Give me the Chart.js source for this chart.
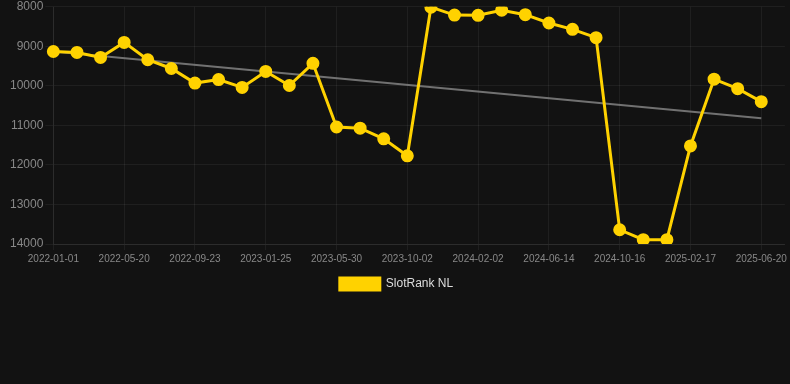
<!DOCTYPE html>
<html>
<head>
<meta charset="utf-8">
<script src="https://cdn.jsdelivr.net/npm/chart.js@4"></script>
<style>
    html, body { margin: 0; padding: 0; background: #121212; }
    #wrap { width: 790px; height: 300px; position: relative; }
</style>
</head>
<body>
<div id="wrap"><canvas id="rank-chart"></canvas></div>
<script>
"use strict";

// category labels (one spare slot at the end so the grid runs past the last point)
const DATES = [
    "2022-01-01", "2022-02-16", "2022-04-03", "2022-05-20", "2022-07-01", "2022-08-12",
    "2022-09-23", "2022-11-03", "2022-12-14", "2023-01-25", "2023-03-08", "2023-04-19",
    "2023-05-30", "2023-07-10", "2023-08-21", "2023-10-02", "2023-11-12", "2023-12-23",
    "2024-02-02", "2024-03-15", "2024-05-03", "2024-06-14", "2024-07-25", "2024-09-04",
    "2024-10-16", "2024-11-26", "2025-01-07", "2025-02-17", "2025-03-30", "2025-05-10",
    "2025-06-20", ""
];

const RANK = [
    9130, 9155, 9280, 8900, 9340, 9560, 9930, 9840, 10040, 9635, 9990, 9430,
    11040, 11070, 11340, 11770, 8010, 8210, 8215, 8085, 8200, 8410, 8570, 8780,
    13640, 13890, 13890, 11520, 9830, 10070, 10400
];

// trend line end points
const TREND_START = 9130;
const TREND_END   = 10820;

const Y_TICKS = [8000, 9000, 10000, 11000, 12000, 13000, 14000];

const YELLOW = "#ffd200";

var trend = RANK.map(function() { return null; });
trend[0] = TREND_START;
trend[RANK.length - 1] = TREND_END;

new Chart(document.getElementById("rank-chart"), {
    type: "line",
    data: {
        labels: DATES,
        datasets: [
            {
                label: "SlotRank NL",
                data: RANK,
                borderColor: YELLOW,
                backgroundColor: YELLOW,
                borderWidth: 3,
                pointRadius: 5,
                pointHoverRadius: 5,
                pointBackgroundColor: YELLOW,
                pointBorderColor: YELLOW,
                tension: 0,
                order: 1
            },
            {
                label: "trend",
                data: trend,
                borderColor: "rgba(130,130,130,0.85)",
                borderWidth: 2,
                pointRadius: 0,
                spanGaps: true,
                order: 2
            }
        ]
    },
    options: {
        responsive: true,
        maintainAspectRatio: false,
        animation: false,
        layout: { autoPadding: false, padding: { left: 8, right: 5, top: 0, bottom: 0 } },
        plugins: {
            legend: {
                position: "bottom",
                labels: {
                    color: "#dddddd",
                    font: { family: "Liberation Sans", size: 12 },
                    boxWidth: 40,
                    boxHeight: 12,
                    filter: function(item) { return item.text !== "trend"; }
                }
            },
            tooltip: { enabled: false }
        },
        scales: {
            x: {
                offset: false,
                grid: { color: "rgba(255,255,255,0.06)", tickLength: 6 },
                border: { color: "rgba(255,255,255,0.06)" },
                ticks: {
                    autoSkip: false,
                    maxRotation: 0,
                    color: "#888888",
                    font: { family: "Liberation Sans", size: 10 },
                    callback: function(val, idx) {
                        return idx % 3 === 0 ? DATES[idx] : null;
                    }
                }
            },
            y: {
                reverse: true,
                min: Y_TICKS[0],
                max: Y_TICKS[Y_TICKS.length - 1],
                afterBuildTicks: function(axis) {
                    axis.ticks = Y_TICKS.map(function(v) { return { value: v }; });
                },
                grid: { color: "rgba(255,255,255,0.06)", tickLength: 8 },
                border: { color: "rgba(255,255,255,0.06)" },
                ticks: {
                    color: "#888888",
                    font: { family: "Liberation Sans", size: 12, lineHeight: 0.8 },
                    padding: 2,
                    callback: function(v) { return String(v); }
                }
            }
        }
    }
});
</script>
</body>
</html>
